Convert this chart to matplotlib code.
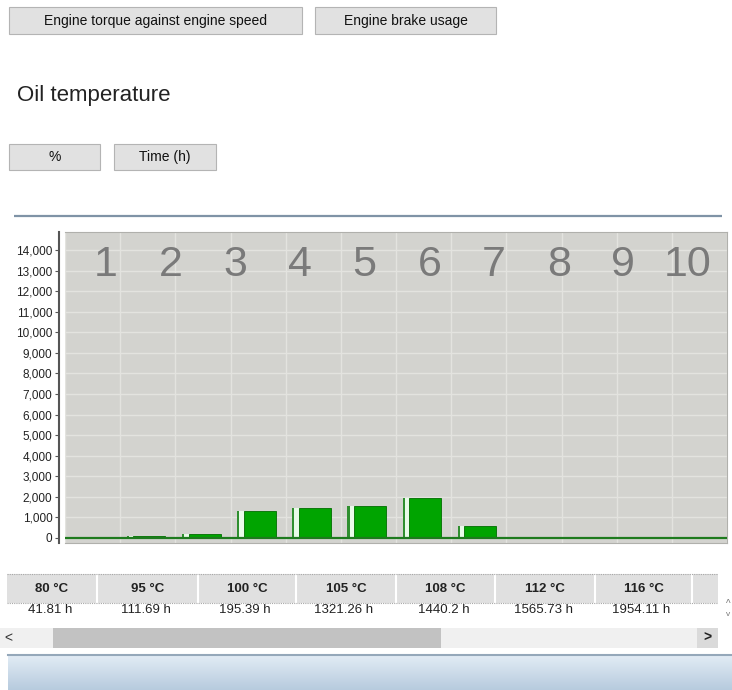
import numpy as np
import matplotlib
matplotlib.use("Agg")
import matplotlib.pyplot as plt
from matplotlib.patches import Rectangle
from matplotlib.colors import LinearSegmentedColormap

plt.rcParams['font.family'] = ['Liberation Sans', 'DejaVu Sans']

#-------------- Data --------------
temps = ["80 °C", "95 °C", "100 °C", "105 °C", "108 °C", "112 °C", "116 °C"]
hours = [41.81, 111.69, 195.39, 1321.26, 1440.2, 1565.73, 1954.11]
bar_values = hours + [580, 0, 0, 0, 0]
y_ticks = list(range(0, 15000, 1000))
col_numbers = [str(i) for i in range(1, 11)]
#----------------------------------

fig = plt.figure(figsize=(7.32, 6.9), dpi=100)

# page layer in pixel units
ax0 = fig.add_axes([0, 0, 1, 1])
ax0.set_xlim(0, 732)
ax0.set_ylim(690, 0)
ax0.axis('off')

def button(x0, x1, y0, y1, label):
    ax0.add_patch(Rectangle((x0, y0), x1 - x0, y1 - y0, facecolor='#e1e1e1',
                            edgecolor='#b4b4b4', lw=0.8))
    ax0.text((x0 + x1) / 2, (y0 + y1) / 2, label, ha='center', va='center',
             fontsize=10, color='#111111')

button(9, 302, 7, 34, "Engine torque against engine speed")
button(315, 496, 7, 34, "Engine brake usage")
ax0.text(17, 95, "Oil temperature", ha='left', va='center', fontsize=16, color='#222222')
button(9, 100, 144, 170, "%")
button(114, 216, 144, 170, "Time (h)")

ax0.plot([14, 722], [216, 216], color='#7f93a6', lw=1.6, solid_capstyle='butt')

#-------------- table --------------
edges = [7, 97, 198, 296, 396, 495, 595, 692, 718]
ax0.add_patch(Rectangle((7, 574), 711, 29, facecolor='#e0e0e0', edgecolor='none'))
for x in edges[1:-1]:
    ax0.plot([x, x], [574, 603], color='white', lw=1.5)
ax0.plot([7, 718], [574, 574], color='#a8a8a8', lw=0.8, ls=(0, (1, 1)))
ax0.plot([7, 718], [603, 603], color='#a8a8a8', lw=0.8, ls=(0, (1, 1)))
for i in range(len(temps)):
    cx = (edges[i] + edges[i + 1]) / 2
    ax0.text(cx, 589, temps[i], ha='center', va='center', fontsize=9.5,
             fontweight='bold', color='#222222')
    ax0.text(cx - 2, 610, "%g h" % hours[i], ha='center', va='center',
             fontsize=9.5, color='#222222')

# scrollbar
ax0.add_patch(Rectangle((0, 628), 718, 20, facecolor='#f0f0f0', edgecolor='none'))
ax0.add_patch(Rectangle((53, 628), 388, 20, facecolor='#c2c2c2', edgecolor='none'))
ax0.add_patch(Rectangle((697, 628), 21, 20, facecolor='#dadada', edgecolor='none'))
ax0.text(8, 638, "<", ha='center', va='center', fontsize=10, color='#333333')
ax0.text(707, 638, ">", ha='center', va='center', fontsize=10, fontweight='bold', color='#222222')
ax0.text(728, 604, "^", ha='center', va='center', fontsize=7, color='#777777')
ax0.text(728, 615, "v", ha='center', va='center', fontsize=6, color='#777777')

# bottom panel
grad = LinearSegmentedColormap.from_list('panel', ['#e2ecf5', '#b7cbde'])
ax0.imshow(np.linspace(0, 1, 60).reshape(-1, 1), extent=(8, 732, 690, 655),
           cmap=grad, aspect='auto', origin='upper')
ax0.plot([8, 732], [655, 655], color='#95a8ba', lw=1.5)
ax0.set_xlim(0, 732)
ax0.set_ylim(690, 0)

#-------------- chart --------------
ax = fig.add_axes([65 / 732, (690 - 543) / 690, 662 / 732, 311 / 690])
ax.set_facecolor('#d3d3cf')
ax.set_xlim(0, 12)
ax.set_ylim(-250, 14880)
ax.set_axisbelow(True)
ax.set_yticks(y_ticks)
ax.set_yticklabels(["{:,}".format(v) for v in y_ticks])
ax.set_xticks(np.arange(0, 13))
ax.tick_params(axis='x', length=0, labelbottom=False)
ax.tick_params(axis='y', length=3, width=0.8, color='#555555', labelsize=8.5,
               labelcolor='#222222', pad=2)
ax.grid(True, color='#e3e3df', lw=1)

for s in ['top', 'right', 'bottom']:
    ax.spines[s].set_color('#b0b0ac')
    ax.spines[s].set_linewidth(0.8)
ax.spines['left'].set_position(('outward', 4))
ax.spines['left'].set_color('#555555')
ax.spines['left'].set_linewidth(1.5)

x = np.arange(len(bar_values))
v = np.array(bar_values)
ax.bar(x + 0.12, v, width=0.04, align='edge', color='#2f8f2f', zorder=3)
ax.bar(x + 0.16, v, width=0.08, align='edge', color='#e8fbe8', zorder=3)
ax.bar(x + 0.24, v, width=0.58, align='edge', color='#00a400',
       edgecolor='#006e00', lw=0.6, zorder=3)
ax.axhline(0, color='#1e7a1e', lw=1.6, zorder=4)

for i, lab in enumerate(col_numbers):
    ax.text(0.062 + i * (0.941 - 0.062) / 9, 0.895, lab, transform=ax.transAxes,
            ha='center', va='center', fontsize=31, color='#7a7a7a', zorder=5)

fig.savefig("out.png", dpi=100)
